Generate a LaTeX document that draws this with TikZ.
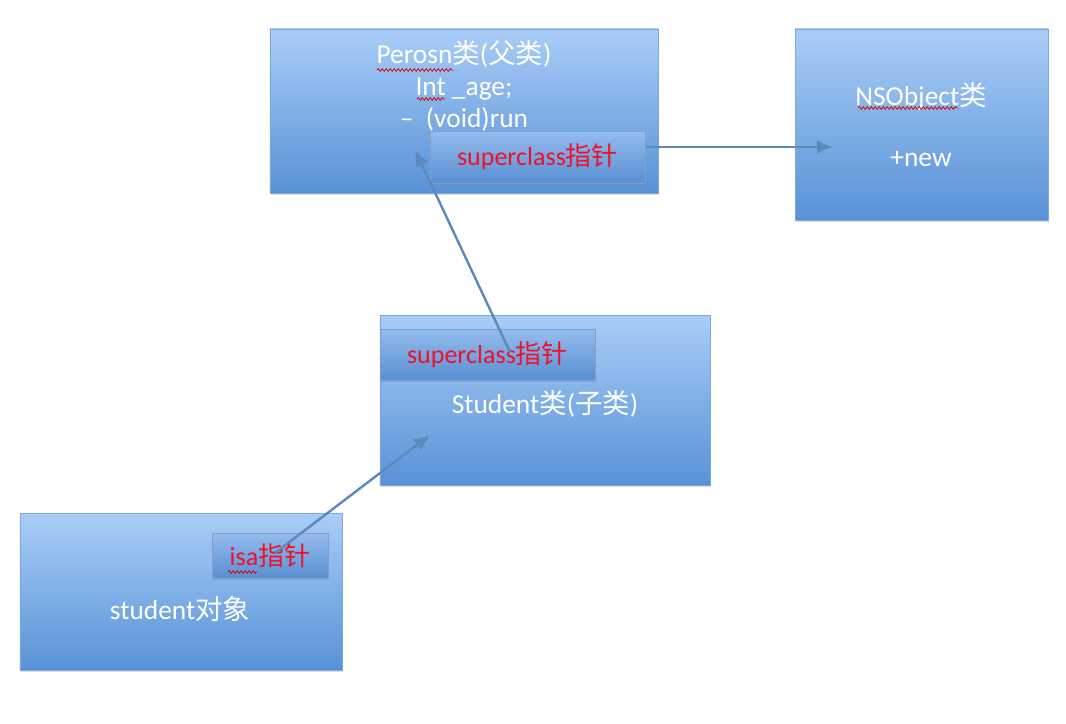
\documentclass[tikz,border=0pt]{standalone}
\usepackage{fontspec}
\setmainfont{Carlito}
\newfontfamily\cjk{Noto Sans CJK SC}
\newcommand\zh[1]{{\cjk #1}}
\usepackage{xcolor}
\usetikzlibrary{arrows.meta}
\usetikzlibrary{shadows}
\usetikzlibrary{decorations.pathmorphing}

\definecolor{boxtop}{HTML}{A9CDF7}
\definecolor{boxbot}{HTML}{5892D6}
\definecolor{boxline}{HTML}{7FA8D8}
\definecolor{ptrtop}{HTML}{94BCEE}
\definecolor{ptrbot}{HTML}{5A8FD2}
\definecolor{ptrcol}{HTML}{5C89BC}
\definecolor{ptrred}{HTML}{F0102A}

\tikzset{
classbox/.style={draw=boxline, line width=0.7pt, top color=boxtop, bottom color=boxbot,
  drop shadow={opacity=0.25, shadow xshift=1pt, shadow yshift=-1.2pt}, inner sep=0pt},
ptrbox/.style={draw=ptrcol!80, line width=0.7pt, top color=ptrtop, bottom color=ptrbot,
  drop shadow={opacity=0.3, shadow xshift=1pt, shadow yshift=-1.2pt}, inner sep=0pt,
  text=ptrred, font=\fontsize{18.5}{22}\selectfont},
classtext/.style={text=white, align=center, font=\fontsize{19.5}{22.5}\selectfont},
ptr/.style={draw=ptrcol, line width=1.7pt, -{Latex[length=4mm,width=3.4mm]}},
spellwave/.style={draw=red!85!black, line width=0.5pt,
  decorate, decoration={snake, amplitude=0.35mm, segment length=1mm}}
}

\begin{document}
\begin{tikzpicture}[x=0.25mm,y=-0.25mm]
\useasboundingbox (0,0) rectangle (1066,724);

% classes
\node[classbox, minimum width=97mm, minimum height=41mm] (person) at (464,111) {};
\node[classbox, minimum width=63.25mm, minimum height=47.75mm] (nsobject) at (921.5,124.5) {};
\node[classbox, minimum width=82.5mm, minimum height=42.5mm] (student) at (545,400) {};
\node[classbox, minimum width=80.5mm, minimum height=39.25mm] (obj) at (181,591.5) {};

\node[classtext] (persontext) at (464,86) {Perosn\zh{类}(\zh{父类})\\
  Int \_age;\\
  \textendash\ \ (void)run};
\node[classtext] (nstitle) at (921,96) {NSObject\zh{类}};
\node[classtext] (nsnew) at (921,159) {+new};
\node[classtext] (studenttext) at (545,404) {Student\zh{类}(\zh{子类})};
\node[classtext] (objtext) at (180,609) {student\zh{对象}};

% pointers
\node[ptrbox, minimum width=53.75mm, minimum height=13mm] (super1) at (537.5,157) {superclass\zh{指针}};
\node[ptrbox, minimum width=53.75mm, minimum height=12.75mm] (super2) at (487.5,354.5) {superclass\zh{指针}};
\node[ptrbox, minimum width=29mm, minimum height=11.25mm] (isa) at (270,555.5) {isa\zh{指针}};

% spelling marks
\draw[spellwave] (377,70) -- (453,70);
\draw[spellwave] (417,99) -- (445,99);
\draw[spellwave] (858,108) -- (958,108);
\draw[spellwave] (228,572) -- (257,572);

\coordinate (nsin) at (833,147);
\coordinate (s2tail) at (510,352);
\coordinate (s1head) at (415,150);
\coordinate (isatail) at (275,553);
\coordinate (stuhead) at (430,435);

\draw[ptr] (super1.east |- nsin) -- (nsin);
\draw[ptr] (s2tail) -- (s1head);
\draw[ptr] (isatail) -- (stuhead);

\end{tikzpicture}
\end{document}
